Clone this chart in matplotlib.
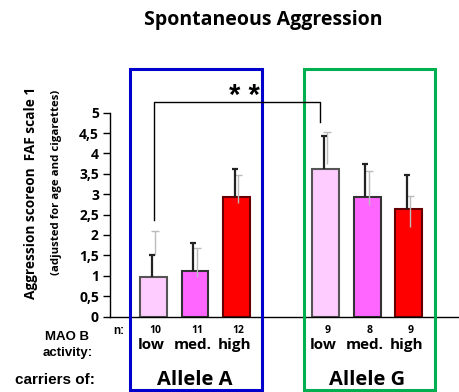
import matplotlib
matplotlib.use('Agg')
import matplotlib.pyplot as plt
from matplotlib.patches import Rectangle
import numpy as np

# ---- data ----
categories = ['low', 'med.', 'high', 'low', 'med.', 'high']
n_labels = ['10', '11', '12', '9', '8', '9']
groups = ['Allele A', 'Allele G']
means = [0.98, 1.11, 2.92, 3.61, 2.92, 2.63]
err_upper = [1.52, 1.81, 3.61, 4.43, 3.73, 3.46]
grey_upper = [2.10, 1.67, 3.46, 4.53, 3.56, 2.96]
grey_lower = [1.50, 0.98, 2.78, 3.75, 2.73, 2.20]
yticks = [0, 0.5, 1, 1.5, 2, 2.5, 3, 3.5, 4, 4.5, 5]
ytick_labels = ['0', '0,5', '1', '1,5', '2', '2,5', '3', '3,5', '4', '4,5', '5']

bar_colors = ['#FFCCFF', '#FF66FF', '#FF0000'] * 2
edge_colors = ['#555555', '#333333', '#660000'] * 2

CAL = ['Open Sans', 'DejaVu Sans']
ARI = ['Liberation Sans', 'DejaVu Sans']

W, H = 460, 392
fig = plt.figure(figsize=(W / 100, H / 100), dpi=100)
ax = fig.add_axes([110 / W, 1 - 316.5 / H, 350 / W, (316.5 - 112.7) / H])

x = np.concatenate([np.arange(3), np.arange(3) + 4.15])
means_a = np.array(means)
ax.bar(x, means_a, width=0.65, color=bar_colors, edgecolor=edge_colors,
       linewidth=1.5, zorder=2)

# grey (secondary) error bars
ax.vlines(x + 0.04, grey_lower, grey_upper, color='#BBBBBB', lw=1, zorder=3)
ax.plot(x + 0.04, grey_upper, ls='none', marker='_', ms=6, mew=1,
        color='#BBBBBB', zorder=3)
# black error bars (upper only)
ax.vlines(x - 0.04, means_a, err_upper, color='#222222', lw=1.6, zorder=4)
ax.plot(x - 0.04, err_upper, ls='none', marker='_', ms=5, mew=1.6,
        color='#222222', zorder=4)

ax.set_xlim(-1.05, 7.39)
ax.set_ylim(0, 5)
ax.set_yticks(yticks)
ax.set_yticklabels(ytick_labels, fontfamily=CAL, fontweight='bold', fontsize=10)
ax.tick_params(axis='y', direction='out', length=5, width=1, pad=3)
ax.set_xticks([])
for s in ['top', 'right']:
    ax.spines[s].set_visible(False)
ax.spines['left'].set_linewidth(1)
ax.spines['bottom'].set_linewidth(1)

# group boxes
ax.add_patch(Rectangle((-0.57, -1.8), 3.18, 7.88, fill=False, edgecolor='#0000CC',
                       lw=2.2, clip_on=False, zorder=5))
ax.add_patch(Rectangle((3.63, -1.8), 3.15, 7.88, fill=False, edgecolor='#00B050',
                       lw=2.2, clip_on=False, zorder=5))

# significance bracket
ax.plot([x[0], x[0], 4.01, 4.01], [2.37, 5.26, 5.26, 4.77], color='black',
        lw=1, clip_on=False, zorder=6)
ax.text(2.2, 5.42, '* *', ha='center', va='center', fontsize=21,
        fontweight='bold', fontfamily=ARI, clip_on=False)

# labels below axis
for xi, n in zip(x, n_labels):
    ax.text(xi + 0.05, -0.35, n, ha='center', va='center', fontsize=7.5,
            fontweight='bold', fontfamily=CAL)
for xi, c in zip(x, categories):
    ax.text(xi - 0.05, -0.69, c, ha='center', va='center', fontsize=11,
            fontweight='bold', fontfamily=CAL)
for gx, g in zip([x[1], x[4]], groups):
    ax.text(gx, -1.57, g, ha='center', va='center', fontsize=14.5,
            fontweight='bold', fontfamily=CAL)

fig.text(119 / W, 1 - 330.7 / H, 'n:', ha='center', va='center', fontsize=8.5,
         fontweight='bold', fontfamily=ARI)
fig.text(67 / W, 1 - 337 / H, 'MAO B', ha='center', va='center', fontsize=9.5,
         fontweight='bold', fontfamily=ARI)
fig.text(68 / W, 1 - 353 / H, 'activity:', ha='center', va='center', fontsize=9.5,
         fontweight='bold', fontfamily=ARI)
fig.text(55 / W, 1 - 380 / H, 'carriers of:', ha='center', va='center', fontsize=11,
         fontweight='bold', fontfamily=ARI)

# y-axis labels
fig.text(31.5 / W, 1 - 86.7 / H, 'Aggression scoreon  FAF scale 1', rotation=90,
         ha='center', va='top', fontsize=9.8, fontweight='bold', fontfamily=CAL)
fig.text(57 / W, 1 - 90 / H, '(adjusted for age and cigarettes)', rotation=90,
         ha='center', va='top', fontsize=8.2, fontweight='bold', fontfamily=CAL)

# title
fig.text(263 / W, 1 - 20 / H, 'Spontaneous Aggression', ha='center', va='center',
         fontsize=14, fontweight='bold', fontfamily=CAL)

fig.savefig('out.png', dpi=100)
